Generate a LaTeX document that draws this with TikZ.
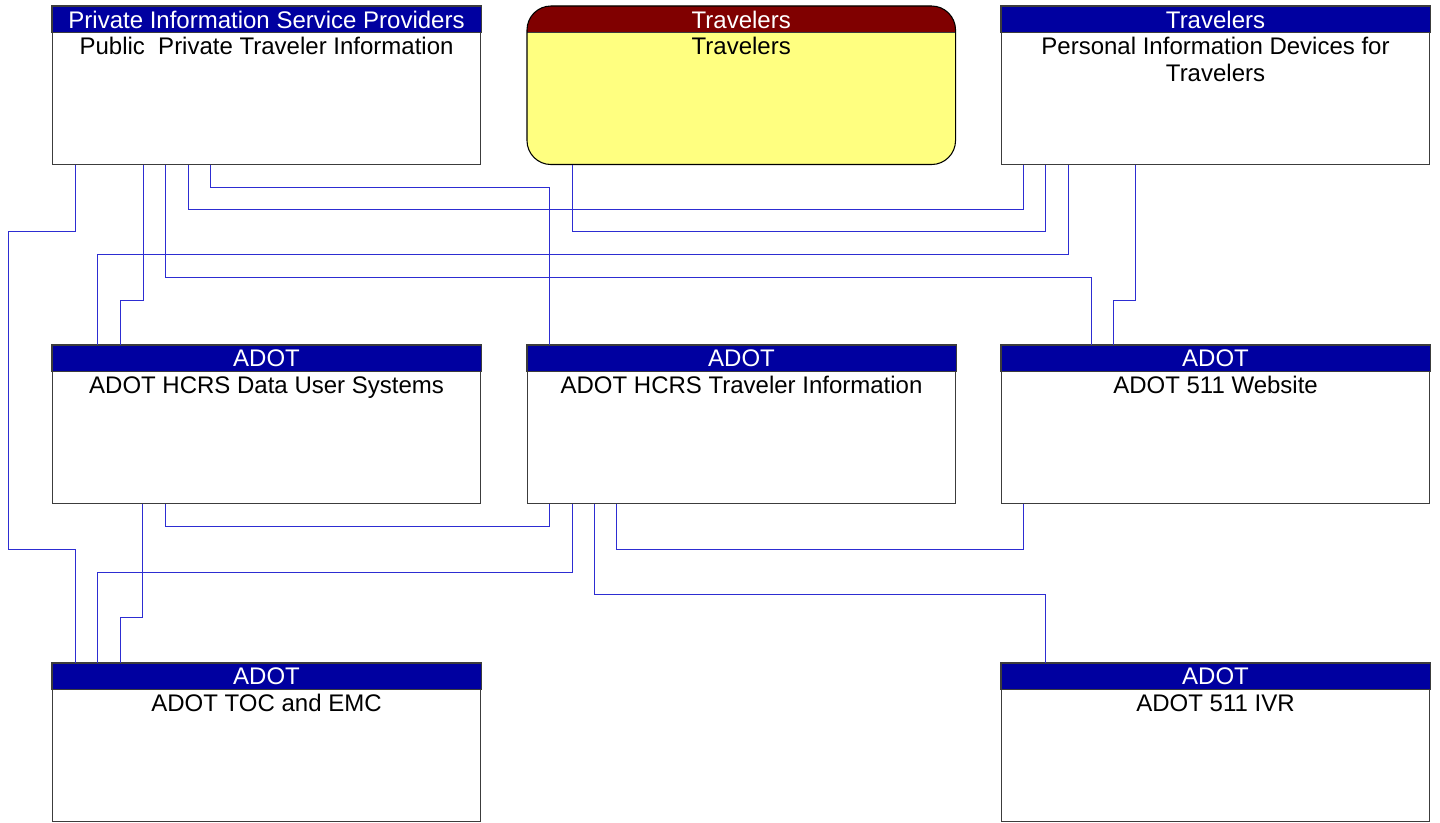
\documentclass[tikz,border=0pt]{standalone}
\usepackage{fontspec}
\setmainfont{Liberation Sans}
\usetikzlibrary{calc}
\definecolor{hdrblue}{RGB}{0,0,160}
\definecolor{hdrred}{RGB}{128,0,0}
\definecolor{bodyyellow}{RGB}{255,255,128}
\definecolor{linkblue}{RGB}{45,45,210}
\definecolor{boxline}{RGB}{60,60,60}
\tikzset{
  sysbox/.style={draw=boxline, line width=0.8pt, fill=white, minimum width=321pt, minimum height=118.5pt, inner sep=0pt, anchor=north west},
  hdrtext/.style={text=white, font=\fontsize{18}{20}\selectfont, inner sep=0pt},
  bodytext/.style={text=black, font=\fontsize{18}{20.25}\selectfont, inner sep=0pt, align=center, anchor=north},
  link/.style={draw=linkblue, line width=0.7pt}
}
\newcommand{\mkbox}[6]{%
  \node[sysbox] (#1) at (#2,#3) {};
  \fill[#6] (#1.north west) rectangle ($(#1.north east)+(0,26.5)$);
  \draw[boxline, line width=0.8pt] (#1.north west) rectangle ($(#1.north east)+(0,26.5)$);
  \node[hdrtext] (#1-h) at ($(#1.north)+(0,13.5)$) {#4};
  \node[bodytext] (#1-b) at ($(#1.north)+(0,31)$) {#5};
}
\begin{document}
\begin{tikzpicture}[x=0.75pt,y=-0.75pt]
\useasboundingbox (0,0) rectangle (1440,823);
% boxes
\mkbox{pisp}{52}{6}{Private Information Service Providers}{Public\ \ Private Traveler Information}{hdrblue}
\mkbox{pid}{1001}{6}{Travelers}{Personal Information Devices for\\Travelers}{hdrblue}
\mkbox{dus}{52}{345}{ADOT}{ADOT HCRS Data User Systems}{hdrblue}
\mkbox{hti}{527}{345}{ADOT}{ADOT HCRS Traveler Information}{hdrblue}
\mkbox{web}{1001}{345}{ADOT}{ADOT 511 Website}{hdrblue}
\mkbox{toc}{52}{663}{ADOT}{ADOT TOC and EMC}{hdrblue}
\mkbox{ivr}{1001}{663}{ADOT}{ADOT 511 IVR}{hdrblue}
% travelers rounded box
\node[minimum width=321pt, minimum height=118.5pt, inner sep=0pt, anchor=north west] (trv) at (527,6) {};
\fill[bodyyellow, rounded corners=18pt] (trv.north west) rectangle (trv.south east);
\begin{scope}
  \clip (trv.north west) rectangle ($(trv.north east)+(0,26.5)$);
  \fill[hdrred, rounded corners=18pt] (trv.north west) rectangle (trv.south east);
\end{scope}
\draw[boxline, line width=0.8pt] ($(trv.north west)+(0,26.5)$) -- ($(trv.north east)+(0,26.5)$);
\draw[black, line width=0.8pt, rounded corners=18pt] (trv.north west) rectangle (trv.south east);
\node[hdrtext] (trv-h) at ($(trv.north)+(0,13.5)$) {Travelers};
\node[bodytext] (trv-b) at ($(trv.north)+(0,31)$) {Travelers};
% connectors
\draw[link] ($(pisp.south west)+(23,0)$) |- (8,231) |- (75,549) -- ($(toc.north west)+(23,0)$);
\draw[link] ($(pisp.south west)+(91,0)$) |- (120,300) -- ($(dus.north west)+(68,0)$);
\draw[link] ($(pisp.south west)+(113,0)$) |- (1091,277) -- ($(web.north west)+(90,0)$);
\draw[link] ($(pisp.south west)+(136,0)$) |- (1023,209) -- ($(pid.south west)+(22,0)$);
\draw[link] ($(pisp.south west)+(158,0)$) |- (549,187) -- ($(hti.north west)+(22,0)$);
\draw[link] ($(trv.south west)+(45,0)$) |- (1045,231) -- ($(pid.south west)+(44,0)$);
\draw[link] ($(pid.south west)+(67,0)$) |- (97,254) -- ($(dus.north west)+(45,0)$);
\draw[link] ($(pid.south west)+(134,0)$) |- (1113,300) -- ($(web.north west)+(112,0)$);
\draw[link] ($(dus.south west)+(113,0)$) |- (549,526) -- ($(hti.south west)+(22,0)$);
\draw[link] ($(dus.south west)+(90,0)$) |- (120,617) -- ($(toc.north west)+(68,0)$);
\draw[link] ($(hti.south west)+(45,0)$) |- (97,572) -- ($(toc.north west)+(45,0)$);
\draw[link] ($(hti.south west)+(67,0)$) |- (1045,594) -- ($(ivr.north west)+(44,0)$);
\draw[link] ($(hti.south west)+(89,0)$) |- (1023,549) -- ($(web.south west)+(22,0)$);
\end{tikzpicture}
\end{document}
